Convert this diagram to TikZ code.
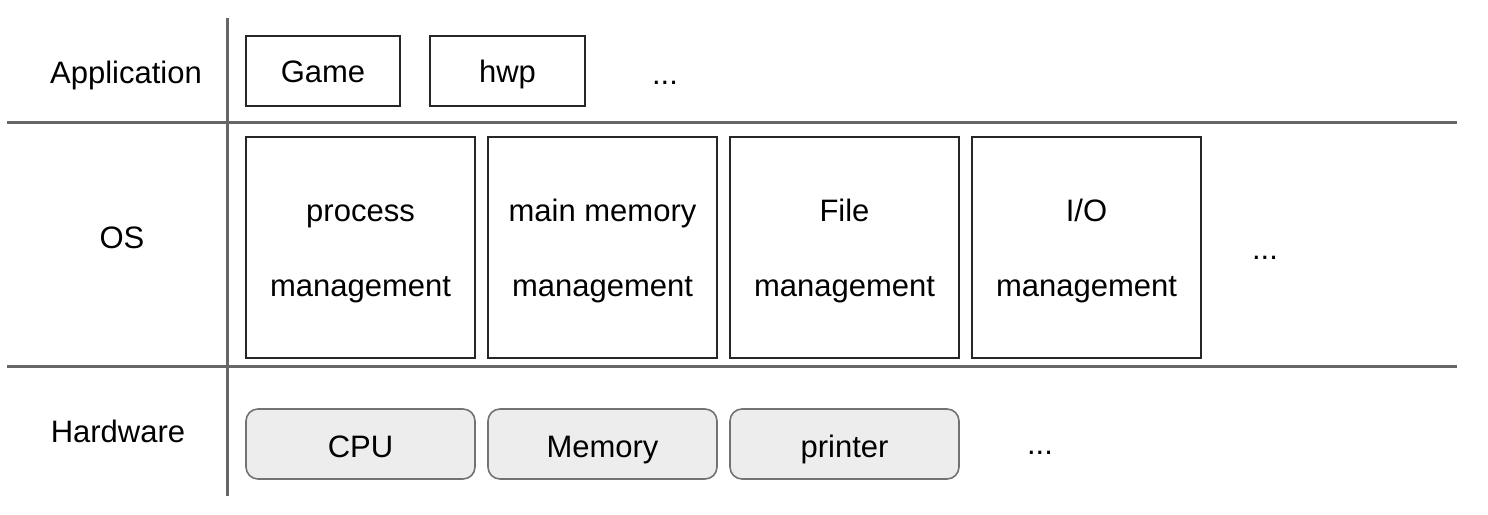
\documentclass[tikz,border=0pt]{standalone}
\usepackage{fontspec}
\setmainfont{Liberation Sans}
\begin{document}
\begin{tikzpicture}[x=1pt,y=-1pt,
  txt/.style={font=\fontsize{31}{37}\selectfont, text=black, anchor=base, inner sep=0pt},
  sep/.style={draw=black!60, line width=3pt},
  appbox/.style={draw=black!85, line width=1.6pt, fill=white},
  hwbox/.style={draw=black!55, line width=1.6pt, fill=black!7, rounded corners=12pt},
]
\useasboundingbox (0,0) rectangle (1488,514);
% separators
\coordinate (vt) at (227,18); \coordinate (vb) at (227,496);
\coordinate (h1l) at (7,122); \coordinate (h1r) at (1457,122);
\coordinate (h2l) at (7,366); \coordinate (h2r) at (1457,366);
\draw[sep] (vt) -- (vb);
\draw[sep] (h1l) -- (h1r);
\draw[sep] (h2l) -- (h2r);
% row labels
\node[txt] (lapp) at (126,83) {Application};
\node[txt] (los) at (122,248) {OS};
\node[txt] (lhw) at (118,442) {Hardware};
% application
\draw[appbox] (246,36) rectangle (400,106);
\node[txt] (game) at (323,82) {Game};
\draw[appbox] (430,36) rectangle (585,106);
\node[txt] (hwp) at (507.5,82) {hwp};
\node[txt] (adots) at (665,84) {...};
% OS
\draw[appbox] (246,137) rectangle (475,358);
\node[txt] (p1) at (360.5,221) {process};
\node[txt] (p2) at (360.5,296) {management};
\draw[appbox] (488,137) rectangle (717,358);
\node[txt] (m1) at (602.5,221) {main memory};
\node[txt] (m2) at (602.5,296) {management};
\draw[appbox] (730,137) rectangle (959,358);
\node[txt] (f1) at (844.5,221) {File};
\node[txt] (f2) at (844.5,296) {management};
\draw[appbox] (972,137) rectangle (1201,358);
\node[txt] (i1) at (1086.5,221) {I/O};
\node[txt] (i2) at (1086.5,296) {management};
\node[txt] (odots) at (1265,259) {...};
% hardware
\draw[hwbox] (246,409) rectangle (475,479);
\node[txt] (cpu) at (360.5,457) {CPU};
\draw[hwbox] (488,409) rectangle (717,479);
\node[txt] (mem) at (602.5,457) {Memory};
\draw[hwbox] (730,409) rectangle (959,479);
\node[txt] (prn) at (844.5,457) {printer};
\node[txt] (hdots) at (1040,454) {...};
\end{tikzpicture}
\end{document}
